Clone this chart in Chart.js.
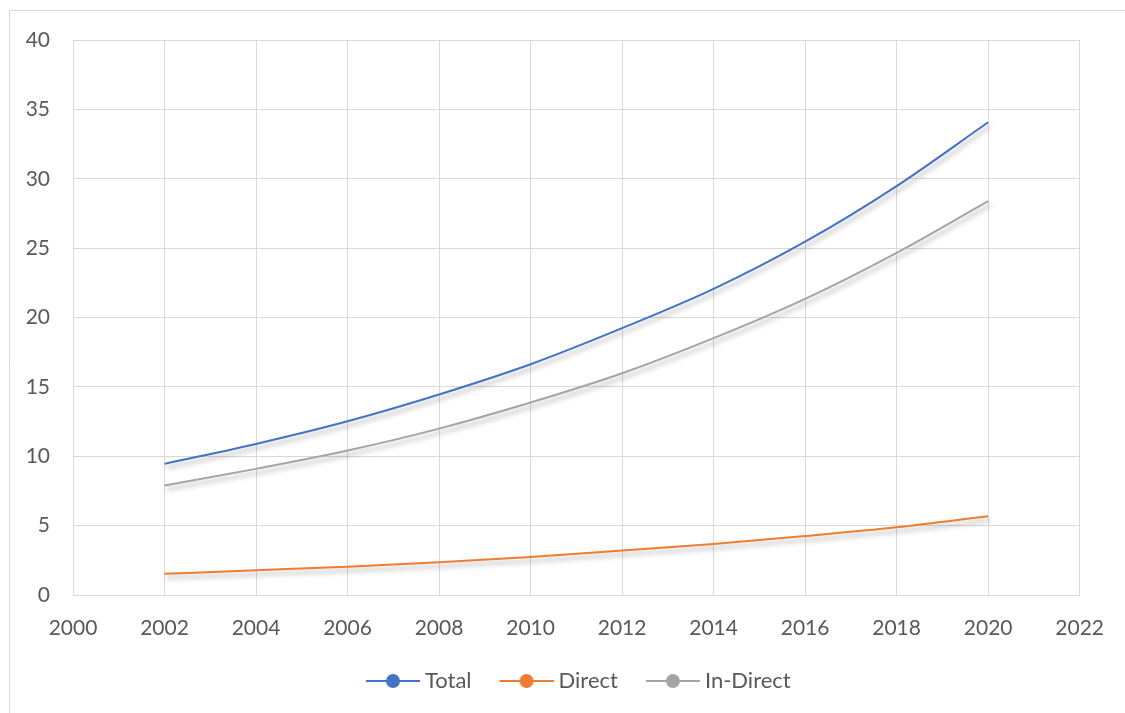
<!DOCTYPE html>
<html>
<head>
<meta charset="utf-8">
<style>
  html, body { margin: 0; padding: 0; background: #ffffff; }
  #wrap { width: 1125px; height: 713px; position: relative; }
</style>
<script src="https://cdn.jsdelivr.net/npm/chart.js@4/dist/chart.umd.min.js"></script>
</head>
<body>
<div id="wrap"><canvas id="chart" width="1125" height="713"></canvas></div>
<script>
// Years sampled and the three series
const years = [2002, 2004, 2006, 2008, 2010, 2012, 2014, 2016, 2018, 2020];
const total = [9.45, 10.89, 12.52, 14.45, 16.63, 19.23, 22.06, 25.46, 29.47, 34.07];
const direct = [1.53, 1.78, 2.04, 2.36, 2.74, 3.2, 3.68, 4.25, 4.88, 5.67];
const indirect = [7.89, 9.09, 10.41, 11.99, 13.87, 15.98, 18.51, 21.34, 24.66, 28.38];

const seriesNames = ['Total', 'Direct', 'In-Direct'];
const seriesColors = ['#4472C4', '#ED7D31', '#A5A5A5'];

// x axis: 2000..2022 every 2, y axis: 0..40 every 5
const xTicks = { min: 2000, max: 2022, step: 2 };
const yTicks = { min: 0, max: 40, step: 5 };

const gridColor = '#d9d9d9';
const textColor = '#595959';
const fontFamily = 'Lato, "Liberation Sans", sans-serif';

function toPoints(vals) {
  return years.map((yr, i) => ({ x: yr, y: vals[i] }));
}

// Legend symbol: a short line with a round marker in its middle
function legendSymbol(color) {
  const c = document.createElement('canvas');
  const lead = 24, len = 54;
  c.width = lead + len;
  c.height = 18;
  const g = c.getContext('2d');
  g.strokeStyle = color;
  g.lineWidth = 2;
  g.beginPath();
  g.moveTo(lead, 9);
  g.lineTo(lead + len, 9);
  g.stroke();
  g.fillStyle = color;
  g.beginPath();
  g.arc(lead + len / 2, 9, 7, 0, Math.PI * 2);
  g.fill();
  return c;
}
const symbols = seriesColors.map(legendSymbol);

// Soft drop shadow under each line
const lineShadow = {
  id: 'lineShadow',
  beforeDatasetDraw(chart) {
    const ctx = chart.ctx;
    ctx.save();
    ctx.shadowColor = 'rgba(0,0,0,0.32)';
    ctx.shadowBlur = 5;
    ctx.shadowOffsetX = 2;
    ctx.shadowOffsetY = 4;
  },
  afterDatasetDraw(chart) {
    chart.ctx.restore();
  }
};

// Thin frame on the left and top of the chart
const frame = {
  id: 'frame',
  beforeDraw(chart) {
    const ctx = chart.ctx;
    ctx.save();
    ctx.strokeStyle = gridColor;
    ctx.lineWidth = 1;
    ctx.beginPath();
    ctx.moveTo(9.5, chart.height);
    ctx.lineTo(9.5, 10.5);
    ctx.lineTo(chart.width, 10.5);
    ctx.stroke();
    ctx.restore();
  }
};

// Nudge the legend row slightly left of the plot centre
const legendNudge = {
  id: 'legendNudge',
  afterLayout(chart) {
    if (chart.legend) {
      chart.legend.left -= 7;
      chart.legend.right -= 7;
    }
  }
};

const values = [total, direct, indirect];

new Chart(document.getElementById('chart'), {
  type: 'line',
  data: {
    datasets: seriesNames.map((name, i) => ({
      label: name,
      data: toPoints(values[i]),
      borderColor: seriesColors[i],
      backgroundColor: seriesColors[i],
      borderWidth: 2,
      pointRadius: 0,
      pointHoverRadius: 0,
      pointStyle: symbols[i],
      cubicInterpolationMode: 'monotone',
      fill: false
    }))
  },
  options: {
    responsive: false,
    animation: false,
    events: [],
    layout: { padding: { left: 0, top: 40, right: 45, bottom: 11 } },
    scales: {
      x: {
        type: 'linear',
        min: xTicks.min,
        max: xTicks.max,
        afterFit(scale) { scale.height = 65; },
        grid: { color: gridColor, lineWidth: 1, drawTicks: false },
        border: { display: true, color: gridColor },
        ticks: {
          stepSize: xTicks.step,
          padding: 21,
          color: textColor,
          font: { family: fontFamily, size: 21 },
          callback: v => String(v),
          maxRotation: 0
        }
      },
      y: {
        min: yTicks.min,
        max: yTicks.max,
        afterFit(scale) { scale.width = 73; },
        grid: { color: gridColor, lineWidth: 1, drawTicks: false },
        border: { display: true, color: gridColor },
        ticks: {
          stepSize: yTicks.step,
          padding: 23,
          color: textColor,
          font: { family: fontFamily, size: 21 }
        }
      }
    },
    plugins: {
      tooltip: { enabled: false },
      legend: {
        position: 'bottom',
        fullSize: false,
        labels: {
          usePointStyle: true,
          pointStyleWidth: 66,
          padding: 10,
          color: textColor,
          font: { family: fontFamily, size: 22 }
        }
      }
    }
  },
  plugins: [frame, lineShadow, legendNudge]
});
</script>
</body>
</html>
